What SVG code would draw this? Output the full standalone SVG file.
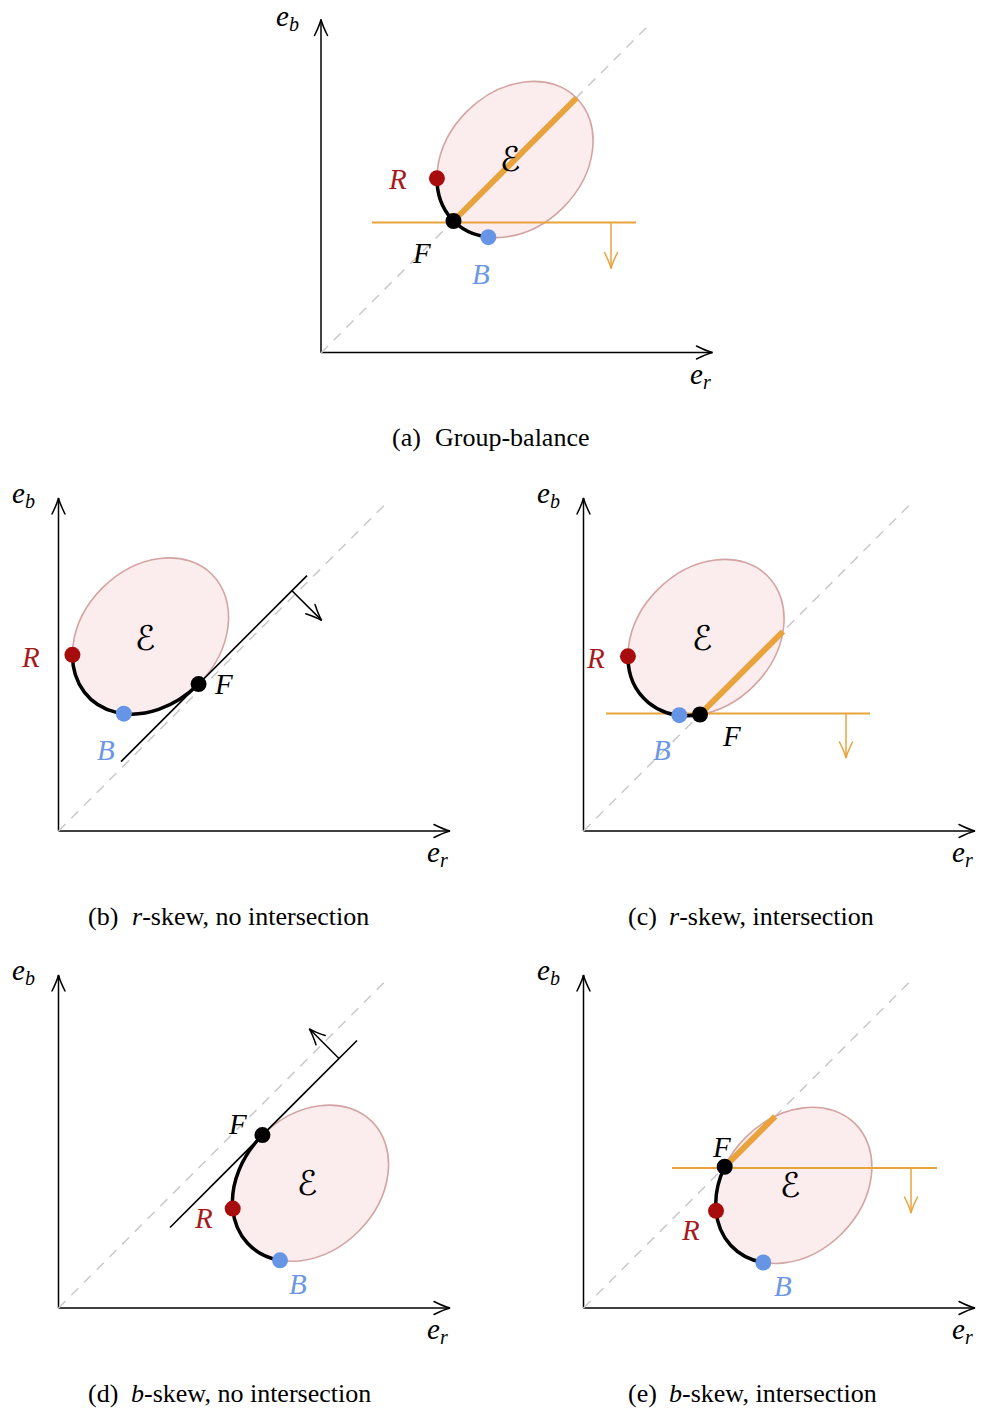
<svg xmlns="http://www.w3.org/2000/svg" width="981" height="1412" viewBox="0 0 981 1412">
<defs>
<style>
.ax{fill:none;stroke:#000;stroke-width:1.5;marker-end:url(#ak)}
.dg{fill:none;stroke:#C9C9C9;stroke-width:1.5;stroke-dasharray:10 8}
.el{fill:#FBEDED;stroke:#D4A3A3;stroke-width:1.6}
.oh{fill:none;stroke:#E8A33C;stroke-width:1.8}
.ot{fill:none;stroke:#E8A33C;stroke-width:1.5;marker-end:url(#ao)}
.oc{fill:none;stroke:#E8A33C;stroke-width:6}
.tg{fill:none;stroke:#000;stroke-width:1.6}
.tk{fill:none;stroke:#000;stroke-width:1.5;marker-end:url(#ak)}
.pf{fill:none;stroke:#000;stroke-width:3.5;stroke-linecap:round}
.dr{fill:#A80D0D}
.db{fill:#6595E4}
.df{fill:#000}
.lb{font-family:"Liberation Serif","Times New Roman",serif;font-style:italic;font-size:29px;fill:#000}
.lr{fill:#A51B1D}
.lbb{fill:#6C97E3}
.cal{font-family:"DejaVu Sans","DejaVu Serif",sans-serif;font-style:normal;font-size:34px;text-anchor:middle;fill:#000}
.sub{font-size:20px}
.cap{font-family:"Liberation Serif","Times New Roman",serif;font-size:26px;fill:#000}
.it{font-style:italic}
</style>
<marker id="ak" markerUnits="userSpaceOnUse" orient="auto" overflow="visible" markerWidth="1" markerHeight="1"><path d="M-16,-6.5 Q-6,-1.5 0,0 Q-6,1.5 -16,6.5" fill="none" stroke="#000" stroke-width="1.5" stroke-linecap="round"/></marker>
<marker id="ao" markerUnits="userSpaceOnUse" orient="auto" overflow="visible" markerWidth="1" markerHeight="1"><path d="M-16,-6.5 Q-6,-1.5 0,0 Q-6,1.5 -16,6.5" fill="none" stroke="#E8A33C" stroke-width="1.5" stroke-linecap="round"/></marker>
</defs>
<rect width="981" height="1412" fill="#fff"/>

<!-- Panel (a) -->
<g id="panel-a">
<g id="a-connectors">
<path class="ax" d="M321,353 L321,19.5"/>
<path class="ax" d="M321,352.5 L712.5,352.5"/>
<path class="dg" d="M321,353 L648,26"/>
</g>
<g id="a-ellipse"><ellipse class="el" cx="0" cy="0" rx="87" ry="68" transform="translate(515,159.5) rotate(-45)"/></g>
<g id="a-lines">
<path class="oh" d="M372,222.5 L636,222.5"/>
<path class="ot" d="M611,222.5 L611,268.5"/>
<path class="oc" d="M453.5,221 L576.5,98"/>
<path class="pf" d="M436.92,178.37 A87 68 -45 0 0 488.31,237.15"/>
</g>
<g id="a-R"><circle class="dr" cx="436.92" cy="178.37" r="8"/><text class="lb lr" x="389" y="189">R</text></g>
<g id="a-B"><circle class="db" cx="488.31" cy="237.15" r="8"/><text class="lb lbb" x="472" y="284">B</text></g>
<g id="a-F"><circle class="df" cx="453.5" cy="221" r="8"/><text class="lb" x="413" y="263">F</text></g>
<g id="a-E"><text class="cal" x="510" y="171">ℰ</text></g>
<text class="lb" x="276" y="26">e<tspan class="sub" dy="5">b</tspan></text>
<text class="lb" x="690" y="384">e<tspan class="sub" dy="5">r</tspan></text>
<text class="cap" x="392" y="446">(a)</text>
<text class="cap" x="435" y="446">Group-balance</text>
</g>

<!-- Panel (b) -->
<g id="panel-b">
<g id="b-connectors">
<path class="ax" d="M58.5,831 L58.5,498"/>
<path class="ax" d="M58.5,831 L450,831"/>
<path class="dg" d="M58.5,831 L385,504.5"/>
</g>
<g id="b-ellipse"><ellipse class="el" cx="0" cy="0" rx="87" ry="68" transform="translate(150.5,636) rotate(-45)"/></g>
<g id="b-lines">
<path class="tg" d="M121,761.66 L307,575.66"/>
<path class="tk" d="M292,590.66 L321.7,620.4"/>
<path class="pf" d="M72.42,654.87 A87 68 -45 0 0 198.58,684.08"/>
</g>
<g id="b-R"><circle class="dr" cx="72.42" cy="654.87" r="8"/><text class="lb lr" x="22" y="667">R</text></g>
<g id="b-B"><circle class="db" cx="123.81" cy="713.65" r="8"/><text class="lb lbb" x="97" y="760">B</text></g>
<g id="b-F"><circle class="df" cx="198.58" cy="684.08" r="8"/><text class="lb" x="215" y="694">F</text></g>
<g id="b-E"><text class="cal" x="145" y="650">ℰ</text></g>
<text class="lb" x="12" y="503">e<tspan class="sub" dy="5">b</tspan></text>
<text class="lb" x="427" y="862">e<tspan class="sub" dy="5">r</tspan></text>
<text class="cap" x="88" y="925">(b)</text>
<text class="cap" x="132" y="925"><tspan class="it">r</tspan>-skew, no intersection</text>
</g>

<!-- Panel (c) -->
<g id="panel-c">
<g id="c-connectors">
<path class="ax" d="M583.5,831 L583.5,498"/>
<path class="ax" d="M583.5,831 L975,831"/>
<path class="dg" d="M583.5,831 L910,504.5"/>
</g>
<g id="c-ellipse"><ellipse class="el" cx="0" cy="0" rx="87" ry="68" transform="translate(706,637.5) rotate(-45)"/></g>
<g id="c-lines">
<path class="oh" d="M606,713.5 L870,713.5"/>
<path class="ot" d="M846,713.5 L846,758"/>
<path class="oc" d="M700,714.49 L782.99,631.5"/>
<path class="pf" d="M627.92,656.37 A87 68 -45 0 0 700,714.49"/>
</g>
<g id="c-R"><circle class="dr" cx="627.92" cy="656.37" r="8"/><text class="lb lr" x="587" y="668">R</text></g>
<g id="c-B"><circle class="db" cx="679.31" cy="715.15" r="8"/><text class="lb lbb" x="653" y="760">B</text></g>
<g id="c-F"><circle class="df" cx="700" cy="714.49" r="8"/><text class="lb" x="723" y="746">F</text></g>
<g id="c-E"><text class="cal" x="702" y="650">ℰ</text></g>
<text class="lb" x="537" y="503">e<tspan class="sub" dy="5">b</tspan></text>
<text class="lb" x="952" y="862">e<tspan class="sub" dy="5">r</tspan></text>
<text class="cap" x="628" y="925">(c)</text>
<text class="cap" x="669" y="925"><tspan class="it">r</tspan>-skew, intersection</text>
</g>

<!-- Panel (d) -->
<g id="panel-d">
<g id="d-connectors">
<path class="ax" d="M58.5,1308 L58.5,975"/>
<path class="ax" d="M58.5,1308 L450,1308"/>
<path class="dg" d="M58.5,1308 L385,981.5"/>
</g>
<g id="d-ellipse"><ellipse class="el" cx="0" cy="0" rx="87" ry="68" transform="translate(310.5,1183.2) rotate(-45)"/></g>
<g id="d-lines">
<path class="tg" d="M170,1227.5 L357,1040.5"/>
<path class="tk" d="M339,1058.5 L309.3,1028.8"/>
<path class="pf" d="M262.42,1135.12 A87 68 -45 0 0 232.72,1208.61 A87 68 -45 0 0 280.01,1260.32"/>
</g>
<g id="d-R"><circle class="dr" cx="232.72" cy="1208.61" r="8"/><text class="lb lr" x="195" y="1228">R</text></g>
<g id="d-B"><circle class="db" cx="280.01" cy="1260.32" r="8"/><text class="lb lbb" x="289" y="1294">B</text></g>
<g id="d-F"><circle class="df" cx="262.42" cy="1135.12" r="8"/><text class="lb" x="229" y="1134">F</text></g>
<g id="d-E"><text class="cal" x="307" y="1195">ℰ</text></g>
<text class="lb" x="12" y="980">e<tspan class="sub" dy="5">b</tspan></text>
<text class="lb" x="427" y="1339">e<tspan class="sub" dy="5">r</tspan></text>
<text class="cap" x="88" y="1402">(d)</text>
<text class="cap" x="131" y="1402"><tspan class="it">b</tspan>-skew, no intersection</text>
</g>

<!-- Panel (e) -->
<g id="panel-e">
<g id="e-connectors">
<path class="ax" d="M583.5,1308 L583.5,975"/>
<path class="ax" d="M583.5,1308 L975,1308"/>
<path class="dg" d="M583.5,1308 L910,981.5"/>
</g>
<g id="e-ellipse"><ellipse class="el" cx="0" cy="0" rx="87" ry="68" transform="translate(793.8,1185.4) rotate(-45)"/></g>
<g id="e-lines">
<path class="oh" d="M672,1168 L937,1168"/>
<path class="ot" d="M911,1168 L911,1213"/>
<path class="oc" d="M724.71,1166.78 L775.18,1116.31"/>
<path class="pf" d="M724.71,1166.78 A87 68 -45 0 0 716.02,1210.81 A87 68 -45 0 0 763.31,1262.52"/>
</g>
<g id="e-R"><circle class="dr" cx="716.02" cy="1210.81" r="8"/><text class="lb lr" x="682" y="1240">R</text></g>
<g id="e-B"><circle class="db" cx="763.31" cy="1262.52" r="8"/><text class="lb lbb" x="774" y="1296">B</text></g>
<g id="e-F"><circle class="df" cx="724.71" cy="1166.78" r="8"/><text class="lb" x="713" y="1157">F</text></g>
<g id="e-E"><text class="cal" x="790" y="1197">ℰ</text></g>
<text class="lb" x="537" y="980">e<tspan class="sub" dy="5">b</tspan></text>
<text class="lb" x="952" y="1339">e<tspan class="sub" dy="5">r</tspan></text>
<text class="cap" x="628" y="1402">(e)</text>
<text class="cap" x="669" y="1402"><tspan class="it">b</tspan>-skew, intersection</text>
</g>
</svg>
